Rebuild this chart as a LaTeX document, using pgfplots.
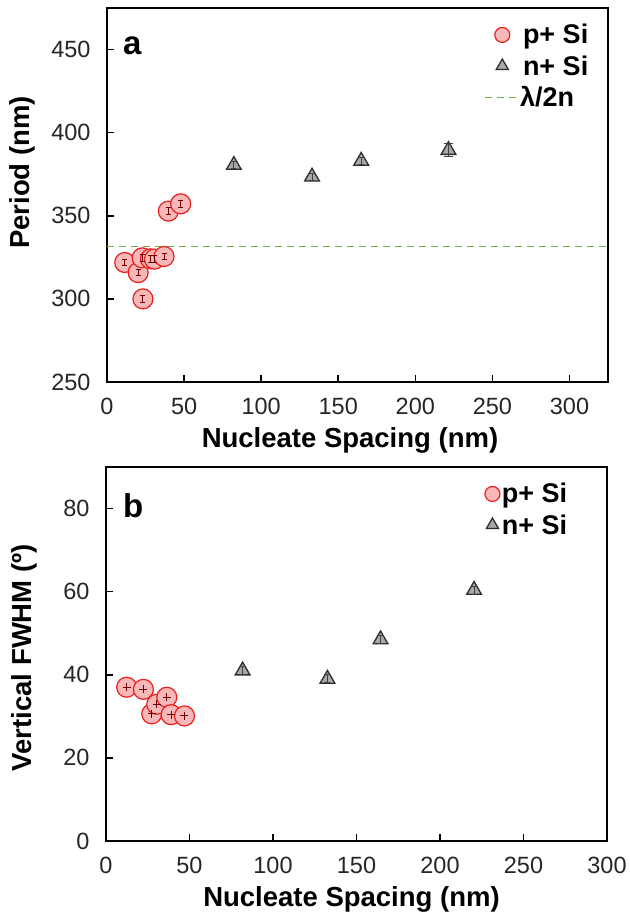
\documentclass[border=0pt]{standalone}
\usepackage{pgfplots}
\pgfplotsset{compat=1.18}
\usepackage{pgfplotstable}
\usepackage{fontspec}
\setmainfont{Liberation Sans}
\definecolor{pfill}{RGB}{246,184,184}
\definecolor{pedge}{RGB}{236,30,30}
\definecolor{nfill}{RGB}{168,168,168}
\definecolor{nedge}{RGB}{45,45,45}
\definecolor{lgreen}{RGB}{112,173,71}

\pgfdeclareplotmark{ibar}{%
  \pgfpathmoveto{\pgfqpoint{0pt}{-\pgfplotmarksize}}%
  \pgfpathlineto{\pgfqpoint{0pt}{\pgfplotmarksize}}%
  \pgfpathmoveto{\pgfqpoint{-0.75\pgfplotmarksize}{-\pgfplotmarksize}}%
  \pgfpathlineto{\pgfqpoint{0.75\pgfplotmarksize}{-\pgfplotmarksize}}%
  \pgfpathmoveto{\pgfqpoint{-0.75\pgfplotmarksize}{\pgfplotmarksize}}%
  \pgfpathlineto{\pgfqpoint{0.75\pgfplotmarksize}{\pgfplotmarksize}}%
  \pgfusepathqstroke}

\pgfplotstableread{
x y
11.5 321.9
20.2 315.8
22.8 324.7
28.2 324.1
30.8 323.9
37.0 325.5
23.3 300.0
39.8 352.8
47.8 357.2
}\ptop
\pgfplotstableread{
x y
82.3 380.5
133.0 373.5
164.9 383.0
221.5 389.5
}\ntop
\pgfplotstableread{
x y
12.4 37.0
22.4 36.5
27.4 30.6
30.4 32.9
36.4 34.6
39.0 30.4
47.0 30.1
}\pbot
\pgfplotstableread{
x y
81.8 41.0
132.6 39.0
164.4 48.5
220.4 60.4
}\nbot

\pgfplotsset{
 myaxis/.style={
  scale only axis, width=501pt, height=374pt,
  axis line style={line width=2.4pt, black},
  tick align=inside, xtick pos=bottom, ytick pos=left,
  major tick length=7pt,
  tick style={line width=1.6pt, black},
  ticklabel style={font=\fontsize{23.5}{27}\selectfont, color=black!85},
  /pgf/number format/assume math mode=true,
  xticklabel shift=13pt, yticklabel shift=13pt,
  label style={font=\bfseries\fontsize{27.5}{31}\selectfont},
  legend cell align=left,
  legend image code/.code={\draw[mark repeat=2,mark phase=2,##1] plot coordinates {(0pt,0pt) (17pt,0pt) (35pt,0pt)};},
  legend style={draw=none, fill=none, inner sep=0pt, font=\bfseries\fontsize{27}{31}\selectfont, row sep=6pt, nodes={inner sep=2pt}},
 },
 pstyle/.style={only marks, mark=*, mark size=10pt, mark options={fill=pfill, draw=pedge, line width=1.2pt},
   legend image post style={mark size=7.5pt}},
 nstyle/.style={only marks, mark=triangle*, mark size=8.5pt, mark options={fill=nfill, draw=nedge, line width=1.3pt},
   legend image post style={mark size=7pt}},
 ebstyle/.style 2 args={forget plot, only marks, mark=#1, mark size=#2,
   mark options={draw=black!55!red, line width=1pt}},
 nbstyle/.style 2 args={forget plot, only marks, mark=#1, mark size=#2,
   mark options={draw=black!75, line width=0.9pt}},
}

\begin{document}
\begin{tikzpicture}
\useasboundingbox (0pt,0pt) rectangle (629pt,-912pt);
\begin{axis}[myaxis, at={(107pt,-8pt)}, anchor=north west,
  xmin=0, xmax=325, ymin=250, ymax=475,
  xtick={0,50,...,300}, ytick={250,300,...,450},
  xlabel={Nucleate Spacing (nm)}, ylabel={Period (nm)},
  xlabel style={at={(axis description cs:0.485,0)}, anchor=center, yshift=-58pt},
  ylabel style={at={(axis description cs:-0.168,0.56)}, anchor=center},
  legend style={at={(rel axis cs:0.965,0.962)}, anchor=north east},
]
\addplot[pstyle] table[x=x, y=y] {\ptop};
\addlegendentry{p+ Si}
\addplot[nstyle] table[x=x, y=y] {\ntop};
\addlegendentry{n+ Si}
\addplot[lgreen, line width=1.4pt, dash pattern=on 7pt off 5pt] coordinates {(0,331.5) (325,331.5)};
\addlegendentry{\kern-3pt λ/2n}
\addplot[ebstyle={ibar}{3.3pt}] table[x=x, y=y] {\ptop};
\addplot[nbstyle={ibar}{3.5pt}] coordinates {(82.3,380.5) (133.0,373.5) (164.9,383.0)};
\addplot[nbstyle={ibar}{6.5pt}] coordinates {(221.5,389.5)};
\node[anchor=north west, inner sep=0pt, font=\bfseries\fontsize{33}{36}\selectfont] at (rel axis cs:0.032,0.925) {a};
\end{axis}
\begin{axis}[myaxis, at={(106pt,-467pt)}, anchor=north west,
  xmin=0, xmax=300, ymin=0, ymax=90,
  xtick={0,50,...,300}, ytick={0,20,...,80},
  xlabel={Nucleate Spacing (nm)}, ylabel={Vertical FWHM (º)},
  xlabel style={at={(axis description cs:0.49,0)}, anchor=center, yshift=-58pt},
  ylabel style={at={(axis description cs:-0.162,0.49)}, anchor=center},
  legend style={at={(rel axis cs:0.925,0.962)}, anchor=north east},
]
\addplot[pstyle] table[x=x, y=y] {\pbot};
\addlegendentry{p+ Si}
\addplot[nstyle] table[x=x, y=y] {\nbot};
\addlegendentry{n+ Si}
\addplot[ebstyle={+}{4pt}] table[x=x, y=y] {\pbot};
\addplot[nbstyle={ibar}{4pt}] table[x=x, y=y] {\nbot};
\node[anchor=north west, inner sep=0pt, font=\bfseries\fontsize{33}{36}\selectfont] at (rel axis cs:0.034,0.93) {b};
\end{axis}
\end{tikzpicture}
\end{document}
